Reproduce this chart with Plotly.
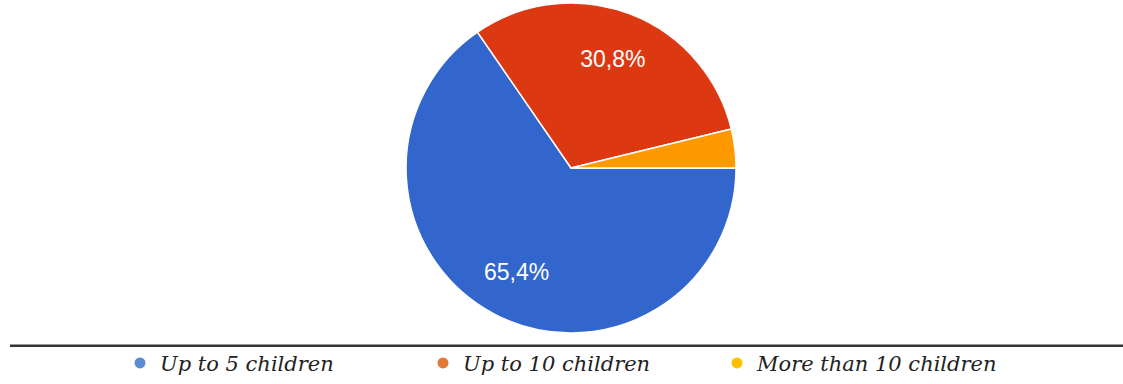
import plotly.graph_objects as go

categories = ["Up to 5 children", "Up to 10 children", "More than 10 children"]
values = [65.4, 30.8, 3.8]
slice_colors = ["#3366cc", "#dc3912", "#ff9900"]
legend_colors = ["#5b8bd0", "#e07a38", "#ffc000"]
label_templates = ["%{percent:.1%}", "%{percent:.1%}", ""]

pie_domain = dict(x=[0.3085, 0.7085], y=[0.112, 0.992])

fig = go.Figure()

# the filled pie
fig.add_trace(go.Pie(
    labels=categories,
    values=values,
    sort=False,
    direction="clockwise",
    rotation=90,
    marker=dict(colors=slice_colors, line=dict(color="white", width=1.5)),
    textinfo="none",
    hoverinfo="label+percent",
    showlegend=False,
    domain=pie_domain,
))

# transparent ring on top, only to place the percentage labels further out
fig.add_trace(go.Pie(
    labels=categories,
    values=values,
    sort=False,
    direction="clockwise",
    rotation=90,
    hole=0.42,
    marker=dict(colors=["rgba(0,0,0,0)"] * len(values), line=dict(width=0)),
    texttemplate=label_templates,
    textposition="inside",
    insidetextorientation="horizontal",
    textfont=dict(family="Liberation Sans, Arial", size=23, color="white"),
    hoverinfo="skip",
    showlegend=False,
    domain=pie_domain,
))

legend_names = ["legend", "legend2", "legend3"]
legend_x_px = [120, 423, 717]
for name, col, lg in zip(categories, legend_colors, legend_names):
    fig.add_trace(go.Scatter(
        x=[None], y=[None], mode="markers", name=name,
        marker=dict(color=col, size=11),
        legend=lg, showlegend=True,
    ))

legend_font = dict(family="DejaVu Serif", size=21, color="#222222", style="italic")
legend_common = dict(orientation="h", yanchor="middle", xanchor="left",
                     font=legend_font, bgcolor="rgba(0,0,0,0)", borderwidth=0)
ly = (384 - 372) / 384

fig.update_layout(
    width=1123, height=384,
    margin=dict(l=0, r=0, t=0, b=0),
    paper_bgcolor="white", plot_bgcolor="white",
    separators=",.",
    xaxis=dict(visible=False),
    yaxis=dict(visible=False),
    legend=dict(x=legend_x_px[0] / 1123, y=ly, **legend_common),
    legend2=dict(x=legend_x_px[1] / 1123, y=ly, **legend_common),
    legend3=dict(x=legend_x_px[2] / 1123, y=ly, **legend_common),
    shapes=[dict(type="line", xref="paper", yref="paper",
                 x0=10 / 1123, x1=1, y0=(384 - 354) / 384, y1=(384 - 354) / 384,
                 line=dict(color="#333333", width=2.5))],
)

fig.write_html(
    "out.html",
    config={"displayModeBar": False},
    post_script="document.body.style.margin='0';document.body.style.padding='0';document.body.style.overflow='hidden';",
)
